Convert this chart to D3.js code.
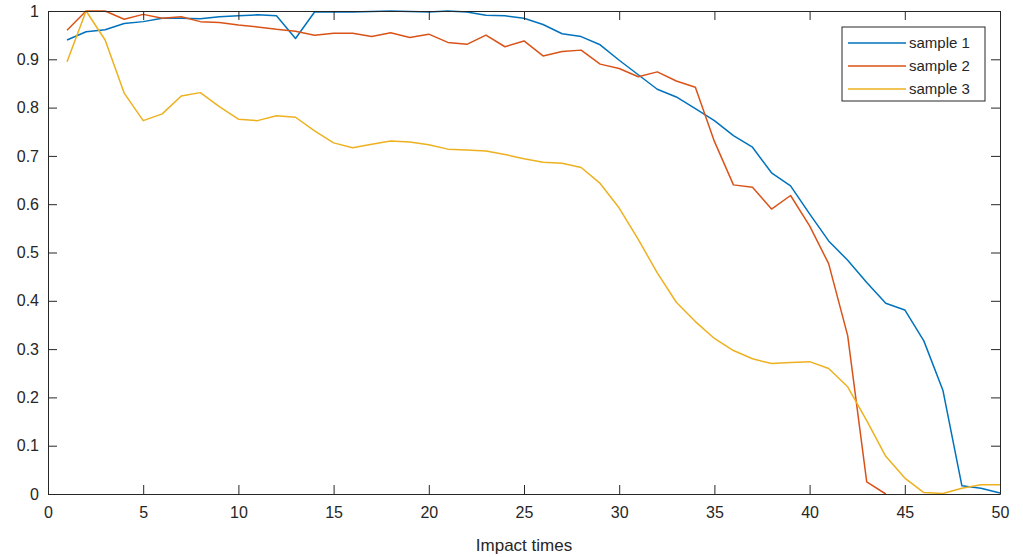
<!DOCTYPE html>
<html>
<head>
<meta charset="utf-8">
<script src="https://cdn.jsdelivr.net/npm/d3@7"></script>
<style>
  body { margin: 0; background: #fff; }
  text { font-family: "Liberation Sans", Arial, sans-serif; fill: #262626; }
</style>
</head>
<body>
<div id="vis"></div>
<script>
// chart size
var width = 1023;
var height = 557;

// impact times 1..50
var impacts = d3.range(1, 51);

var sample1 = [0.94, 0.957, 0.961, 0.974, 0.978, 0.985, 0.985, 0.984, 0.988, 0.99,
               0.992, 0.99, 0.943, 0.998, 0.998, 0.998, 0.999, 1.0, 0.999, 0.998,
               1.0, 0.998, 0.991, 0.99, 0.985, 0.972, 0.953, 0.947, 0.93, 0.898,
               0.868, 0.838, 0.822, 0.798, 0.773, 0.742, 0.718, 0.665, 0.638, 0.58,
               0.524, 0.484, 0.438, 0.395, 0.381, 0.317, 0.215, 0.017, 0.012, 0.002];
var sample2 = [0.96, 1.0, 1.0, 0.983, 0.993, 0.985, 0.988, 0.978, 0.976, 0.971,
               0.967, 0.962, 0.958, 0.95, 0.954, 0.954, 0.947, 0.955, 0.945, 0.952,
               0.935, 0.931, 0.95, 0.926, 0.938, 0.907, 0.916, 0.919, 0.89, 0.881,
               0.864, 0.874, 0.855, 0.842, 0.73, 0.64, 0.635, 0.59, 0.618, 0.555,
               0.477, 0.328, 0.025, 0.0];
var sample3 = [0.895, 1.0, 0.94, 0.83, 0.773, 0.787, 0.824, 0.831, 0.802, 0.776,
               0.773, 0.783, 0.78, 0.752, 0.727, 0.717, 0.724, 0.731, 0.729, 0.723,
               0.714, 0.712, 0.71, 0.703, 0.694, 0.687, 0.685, 0.676, 0.643, 0.592,
               0.527, 0.458, 0.397, 0.357, 0.322, 0.297, 0.28, 0.27, 0.272, 0.274,
               0.26, 0.222, 0.152, 0.078, 0.033, 0.003, 0.001, 0.012, 0.019, 0.019];

var seriesNames = ["sample 1", "sample 2", "sample 3"];
var seriesColors = ["#0072BD", "#D95319", "#EDB120"];
var seriesData = [sample1, sample2, sample3];

var xTicks = d3.range(0, 51, 5);
var yTicks = d3.range(0, 11).map(function(i){ return i / 10; });

var margin = {top: 11, right: 23, bottom: 63, left: 48};
var innerW = width - margin.left - margin.right;
var innerH = height - margin.top - margin.bottom;

var svg = d3.select("#vis").append("svg")
    .attr("width", width)
    .attr("height", height);

var g = svg.append("g")
    .attr("transform", "translate(" + margin.left + "," + margin.top + ")");

var x = d3.scaleLinear().domain([0, 50]).range([0, innerW]);
var y = d3.scaleLinear().domain([0, 1]).range([innerH, 0]);

var tickLen = 9;
var axisColor = "#262626";

// lines
var line = d3.line()
    .x(function(d, i){ return x(impacts[i]); })
    .y(function(d){ return y(d); });

g.selectAll(".series")
    .data(seriesData)
    .enter()
    .append("path")
    .attr("class", "series")
    .attr("fill", "none")
    .attr("stroke", function(d, i){ return seriesColors[i]; })
    .attr("stroke-width", 1.5)
    .attr("stroke-linejoin", "round")
    .attr("d", line);

// axes (matlab style: ticks inward, box all round)
var xAxis = g.append("g")
    .attr("transform", "translate(0," + innerH + ")")
    .call(d3.axisBottom(x).tickValues(xTicks).tickSizeInner(-tickLen).tickSizeOuter(0).tickPadding(13));
var xTop = g.append("g")
    .call(d3.axisTop(x).tickValues(xTicks).tickSizeInner(-tickLen).tickSizeOuter(0).tickFormat(""));
var yAxis = g.append("g")
    .call(d3.axisLeft(y).tickValues(yTicks).tickSizeInner(-tickLen).tickSizeOuter(0).tickPadding(9)
      .tickFormat(function(d){ return d3.format("~g")(d); }));
var yRight = g.append("g")
    .attr("transform", "translate(" + innerW + ",0)")
    .call(d3.axisRight(y).tickValues(yTicks).tickSizeInner(-tickLen).tickSizeOuter(0).tickFormat(""));

[xAxis, xTop, yAxis, yRight].forEach(function(a){
    a.selectAll("path, line").attr("stroke", axisColor);
    a.selectAll("text").style("font-size", "16px").attr("fill", axisColor)
      .style("font-family", "'Liberation Sans', Arial, sans-serif");
});

// axis label
g.append("text")
    .attr("x", innerW / 2)
    .attr("y", innerH + 57)
    .attr("text-anchor", "middle")
    .style("font-size", "17px")
    .text("Impact times");

// legend
var legend = g.append("g")
    .attr("transform", "translate(" + (842 - margin.left) + "," + (27 - margin.top) + ")");

legend.append("rect")
    .attr("width", 143)
    .attr("height", 74)
    .attr("fill", "#fff")
    .attr("stroke", axisColor)
    .attr("stroke-width", 1);

var items = legend.selectAll(".item")
    .data(seriesNames)
    .enter()
    .append("g")
    .attr("class", "item")
    .attr("transform", function(d, i){ return "translate(0," + (16 + i * 23) + ")"; });

items.append("line")
    .attr("x1", 6).attr("x2", 64)
    .attr("stroke", function(d, i){ return seriesColors[i]; })
    .attr("stroke-width", 1.5);

items.append("text")
    .attr("x", 67)
    .attr("dy", "0.35em")
    .style("font-size", "15px")
    .text(function(d){ return d; });
</script>
</body>
</html>
